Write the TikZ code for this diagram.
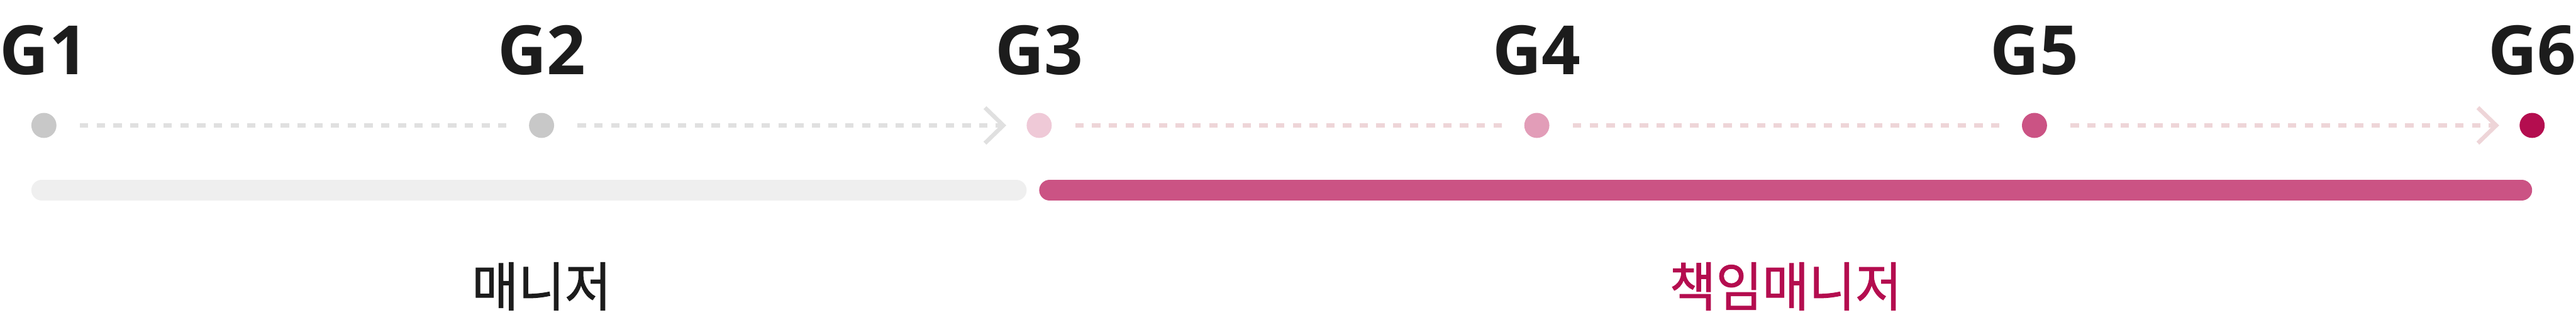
\documentclass[tikz,border=0pt]{standalone}
\usepackage{fontspec}
\setmainfont{Open Sans}
\newfontfamily\krfont{Noto Sans CJK KR}[FakeBold=1.2]
\usetikzlibrary{arrows.meta,positioning,calc}
\definecolor{Ink}{HTML}{1C1C1C}
\definecolor{DotGray}{HTML}{C8C8C8}
\definecolor{LineGray}{HTML}{E0E0E0}
\definecolor{BarGray}{HTML}{EFEFEF}
\definecolor{PinkA}{HTML}{EFC9D7}
\definecolor{PinkB}{HTML}{E29DB8}
\definecolor{PinkC}{HTML}{CB5384}
\definecolor{LinePink}{HTML}{EED5D8}
\definecolor{Berry}{HTML}{B40D4F}
\tikzset{
  stage/.style={circle, minimum size=4.8mm, inner sep=0pt, outer sep=0pt},
  grade/.style={font=\bfseries\fontsize{37}{40}\selectfont, text=Ink, inner sep=0pt},
  track/.style={line width=0.8mm, dash pattern=on 1.6mm off 1.6mm, shorten <=4.5mm, shorten >=4.3mm},
  trackarrow/.style={track, shorten >=3.9mm, -{Straight Barb[length=3.5mm, width=6.8mm]}},
  bar/.style={line width=4mm, line cap=round, shorten <=2mm, shorten >=2mm},
  role/.style={font=\krfont\fontsize{27.5}{30}\selectfont, inner sep=0pt, yscale=1.05}
}

\begin{document}
\begin{tikzpicture}[node distance=7.2mm and 9.04cm]
  \useasboundingbox (0,0) rectangle (49.28,6.12);

  \node[stage, fill=DotGray] (s1) at (0.84,3.72) {};
  \node[stage, fill=DotGray, right=of s1] (s2) {};
  \node[stage, fill=PinkA, right=of s2] (s3) {};
  \node[stage, fill=PinkB, right=of s3] (s4) {};
  \node[stage, fill=PinkC, right=of s4] (s5) {};
  \node[stage, fill=Berry, right=of s5] (s6) {};

  \node[grade, above=of s1] (g1) {G1};
  \node[grade, above=of s2] (g2) {G2};
  \node[grade, above=of s3] (g3) {G3};
  \node[grade, above=of s4] (g4) {G4};
  \node[grade, above=of s5] (g5) {G5};
  \node[grade, above=of s6] (g6) {G6};

  \draw[track, LineGray] (s1) -- (s2);
  \draw[trackarrow, LineGray] (s2) -- (s3);
  \draw[track, LinePink] (s3) -- (s4);
  \draw[track, LinePink] (s4) -- (s5);
  \draw[trackarrow, LinePink] (s5) -- (s6);

  % bars run 12.4mm under the dots
  \coordinate (bar1a) at ($(s1.west)+(0,-1.24)$);
  \coordinate (bar1b) at ($(s3.west)+(0,-1.24)$);
  \coordinate (bar2a) at ($(s3)+(0,-1.24)$);
  \coordinate (bar2b) at ($(s6)+(0,-1.24)$);
  \draw[bar, BarGray] (bar1a) -- (bar1b);
  \draw[bar, PinkC] (bar2a) -- (bar2b);

  \node[role, text=Ink] (manager) at ($(s2)+(0,-3.08)$) {매니저};
  \node[role, text=Berry] (lead) at ($(s3)!0.5!(s6)+(0,-3.08)$) {책임매니저};
\end{tikzpicture}
\end{document}
